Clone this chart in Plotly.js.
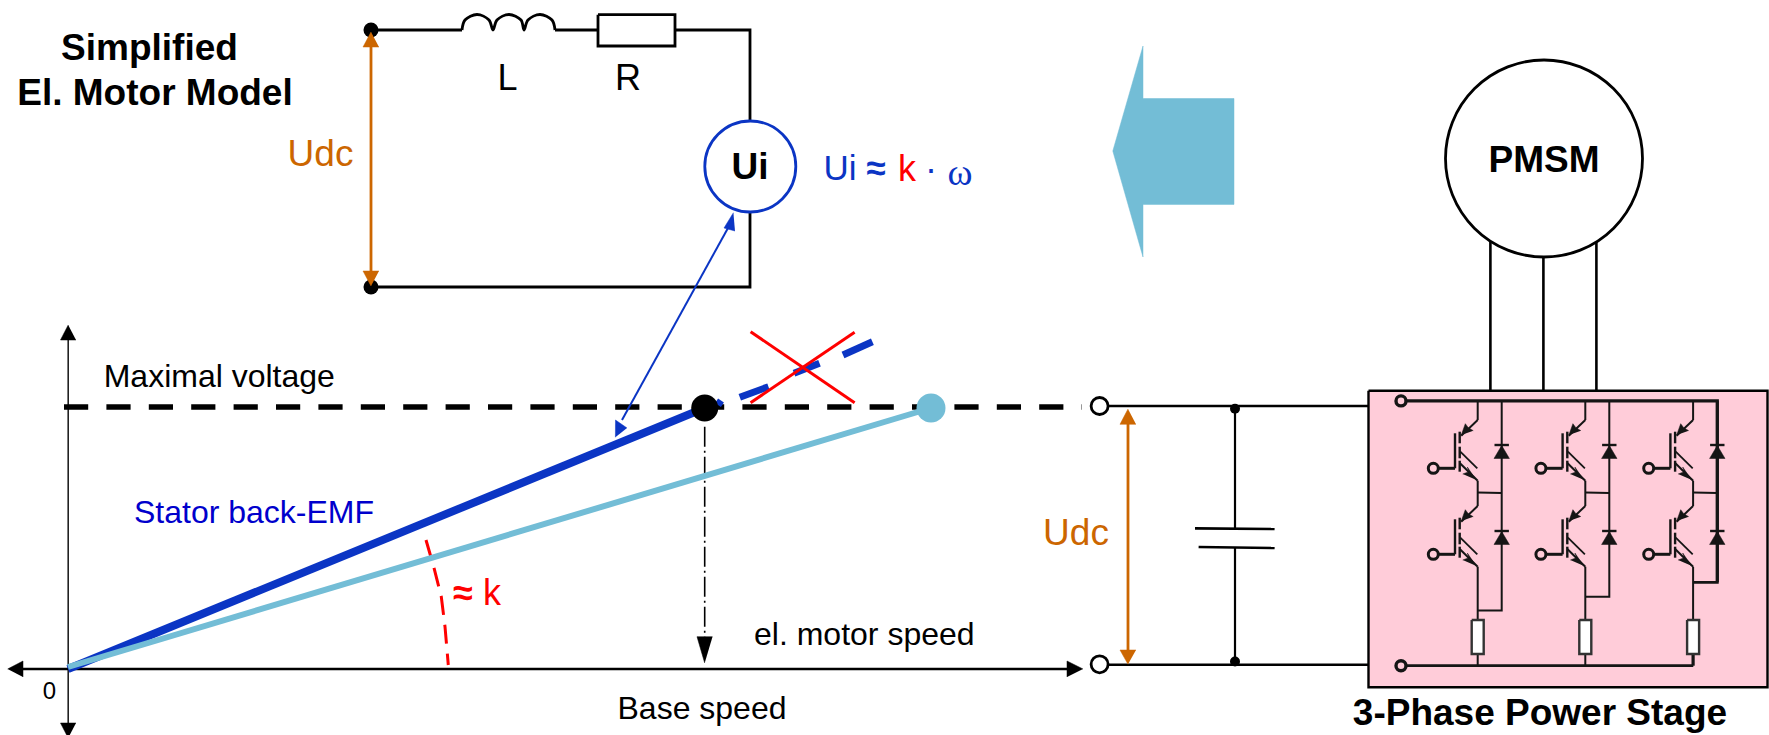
<!DOCTYPE html>
<html><head><meta charset="utf-8">
<script src="https://cdn.plot.ly/plotly-3.0.1.min.js"></script>
<style>html,body{margin:0;padding:0;background:#fff;overflow:hidden}#c{width:1769px;height:735px}</style>
</head><body><div id="c"></div>
<script>
// ---------- colours ----------
const BLACK='#000000', DARK='#151515', BLUE='#0b35c4', SKY='#73bdd6', ORANGE='#cc6600', RED='#ff0000', PINK='#ffccd9', NAVY='#0000cc';

// ---------- labels ----------
const labelTexts = ['Simplified','El. Motor Model','L','R','Udc','Ui','Ui <b>≈</b>','k','·','ω','PMSM','Maximal voltage','Stator back-EMF','<b>≈</b> k','el. motor speed','Base speed','0','Udc','3-Phase Power Stage'];
const labelX     = [149.5,155,507.6,628,320.5,750,854.5,907,931,960,1544,219.3,254,477,864.3,702,49.5,1076,1540];
const labelY     = [51,96,81,81,157,169.5,171.5,171.5,171.5,175,163,379,515,595.5,636.5,711,693,536,716];
const labelSize  = [37,37,36,36,37,37,35,36,36,38,37,32,32,36,32,32,24,37,37];
const labelColor = [BLACK,BLACK,BLACK,BLACK,ORANGE,BLACK,BLUE,RED,BLUE,BLUE,BLACK,BLACK,NAVY,RED,BLACK,BLACK,BLACK,ORANGE,BLACK];
const labelBold  = [1,1,0,0,0,1,0,0,0,0,1,0,0,0,0,0,0,0,1];
const labelFont  = ['s','s','s','s','s','s','s','s','s','t','s','s','s','s','s','s','s','s','s'];

// ---------- motor model circuit ----------
const wireTopX=[371,462], wireTopY=[30,30];
const wireMidX=[555,598], wireMidY=[30,30];
const wireRightX=[675,750,750], wireRightY=[30,30,122];
const wireLowX=[750,750,371], wireLowY=[212,287,287];
const inductorX=[462,465,477,489,493,497,509,521,524,528,540,552,555];
const inductorY=[30,20,14.5,20,30,20,14.5,20,30,20,14.5,20,30];
const seriesResX=[598,675,675,598,598], seriesResY=[14.7,14.7,46,46,14.7];
const modelDotX=[371,371], modelDotY=[30,287];
const modelUdcX=[371,371], modelUdcY=[40,278];
const modelUdcHeadTopX=[371,363,379], modelUdcHeadTopY=[32,47,47];
const modelUdcHeadBotX=[371,363,379], modelUdcHeadBotY=[286,271,271];
const uiCircleX=[750.3], uiCircleY=[166.5], uiCircleD=[91];
const linkX=[728,622], linkY=[228,420];
const linkHeadTopX=[733.4,724,735], linkHeadTopY=[212.7,228,231];
const linkHeadBotX=[615.4,615.5,627], linkHeadBotY=[437.3,420,428];

// ---------- speed / voltage graph ----------
const yAxisX=[68.2,68.2], yAxisY=[335,728];
const yHeadTopX=[68.2,60.5,76], yHeadTopY=[325,340,340];
const yHeadBotX=[68.2,60.5,76], yHeadBotY=[738,723,723];
const xAxisX=[20,1070], xAxisY=[669,669];
const xHeadLeftX=[7.6,23,23], xHeadLeftY=[669,661,677];
const xHeadRightX=[1083,1067,1067], xHeadRightY=[669,661,677];
const maxVoltX=[64,1082], maxVoltY=[407,407];
const backEmfX=[68,704.7], backEmfY=[669,408];
const fieldWeakX=[68,931], fieldWeakY=[667,408];
const slopeDashes=[[718,405,721,400.5],[739.8,397.3,768.5,386.7],[794,373.3,819.5,363.3],[843,355,872.4,341.7]];
const crossA=[750.6,854.6], crossAY=[331.7,402.7];
const crossB=[854.6,750.6], crossBY=[332.3,402.7];
const baseDropX=[704.7,704.7], baseDropY=[426.7,640];
const baseHeadX=[704.7,697,712.5], baseHeadY=[663,636.7,636.7];
const angleX=[426,433.7,441.3,445,448.3], angleY=[540,566.7,596.7,626.7,665];
const endDotX=[704.7,931], endDotY=[408,408], endDotD=[27,29];

// ---------- big arrow ----------
const bigArrowX=[1112.8,1143,1143,1234,1234,1143,1143,1112.8];
const bigArrowY=[151,46,98.5,98.5,204.4,204.4,257,151];

// ---------- DC link ----------
const dcTopX=[1109,1368.5], dcTopY=[406,406];
const dcBotX=[1109,1368.5], dcBotY=[664.8,664.8];
const termX=[1099.6,1099.6], termY=[406,664.3];
const capWireUpX=[1235,1235], capWireUpY=[408.8,528.5];
const capWireDnX=[1235,1235], capWireDnY=[548,661.5];
const capPlateAX=[1195,1274.6], capPlateAY=[528.4,529];
const capPlateBX=[1198.6,1274.6], capPlateBY=[547,548];
const nodeX=[1235,1235], nodeY=[408.8,661.5];
const dcUdcX=[1128,1128], dcUdcY=[420,655];
const dcHeadTopX=[1128,1120,1136], dcHeadTopY=[409,424.3,424.3];
const dcHeadBotX=[1128,1120,1136], dcHeadBotY=[664.3,650,650];

// ---------- motor ----------
const motorX=[1544], motorY=[158.5], motorD=[197];
const phaseWireX=[1490.4,1543.4,1596.4], phaseWireTop=[241.5,257,241.5], phaseWireBot=[390.5,390.5,390.5];

// ---------- power stage ----------
const boxX=[1368.5,1767.5,1767.5,1368.5,1368.5], boxY=[390.7,390.7,687.3,687.3,390.7];
const busTopX=[1401,1717.3,1717.3], busTopY=[400.9,400.9,582.3];
const busBotX=[1401,1693.3], busBotY=[665.7,665.7];
const busTermX=[1401,1401], busTermY=[400.9,665.7];
const legCollector=[1477.7,1585.3,1693.1];
const legDiode=[1501.7,1609.3,1717.3];
const legLowCross=[610.5,596.7,582.3];
// one IGBT, relative to its collector wire x, at the upper position
const igbtOffsets=[0,86];
const igbtGateDX=[-44.4,-22.7], igbtGateY=[468.3,468.3];
const igbtBarDX=[-22.7,-22.7], igbtBarY=[433.3,468.3];
const igbtChannelDX=[-18,-18], igbtChannelY=[[431.7,443.3],[446.7,458.3],[460.7,471.7]];
const igbtDiagDX=[-17.4,-0.4], igbtDiagY=[451.7,468.3];
const igbtColDX=[0,-16.5], igbtColY=[420,435.7];
const igbtEmDX=[-17.7,0], igbtEmY=[463.3,480.7];
const igbtColHeadDX=[-16.4,-12.4,-9.4,-4.4], igbtColHeadY=[435,423.7,427.7,430.7];
const igbtEmHeadDX=[-1.7,-10.4,-8.7,-15], igbtEmHeadY=[479.7,467,471.7,474];
const diodeDX=[-7.7,7.7,0,-7.7], diodeY=[458.5,458.5,445.5,458.5];
const diodeBarDX=[-7.2,7.2], diodeBarY=[445,445];
const legResX=[-6,6,6,-6,-6], legResY=[620,620,654,654,620];

// ---------- builders ----------
const traces=[];
const base={type:'scatter',hoverinfo:'skip',showlegend:false,cliponaxis:true};
function line(x,y,color,width,dash,shape){traces.push({...base,mode:'lines',x,y,line:{color,width,dash:dash||'solid',shape:shape||'linear'}});}
function poly(x,y,color){traces.push({...base,mode:'lines',x,y,fill:'toself',fillcolor:color,line:{color,width:0.5}});}
function rect(x,y,fill,color,width){traces.push({...base,mode:'lines',x,y,fill:'toself',fillcolor:fill,line:{color,width}});}
function dots(x,y,size,fill,color,width){traces.push({...base,mode:'markers',x,y,marker:{symbol:'circle',opacity:1,size,color:fill,line:{color,width:width||0}}});}

// big arrow
poly(bigArrowX,bigArrowY,SKY);

// motor
phaseWireX.forEach((v,i)=>line([v,v],[phaseWireTop[i],phaseWireBot[i]],BLACK,2.6));
dots(motorX,motorY,motorD,'#ffffff',BLACK,2.8);

// power stage box
rect(boxX,boxY,PINK,BLACK,2.4);
legCollector.forEach((c,p)=>{
  const d=legDiode[p];
  igbtOffsets.forEach(o=>{
    const sh=a=>a.map(v=>v+o), at=a=>a.map(v=>v+c);
    line(at(igbtGateDX),igbtGateY.map(v=>v+o),DARK,3);
    line(at(igbtBarDX),sh(igbtBarY),DARK,2.4);
    igbtChannelY.forEach(s=>line(at(igbtChannelDX),sh(s),DARK,2.4));
    line(at(igbtDiagDX),sh(igbtDiagY),DARK,1.8);
    line(at(igbtColDX),sh(igbtColY),DARK,2);
    line(at(igbtEmDX),sh(igbtEmY),DARK,2);
    poly(at(igbtColHeadDX),sh(igbtColHeadY),DARK);
    poly(at(igbtEmHeadDX),sh(igbtEmHeadY),DARK);
    poly(diodeDX.map(v=>v+d),sh(diodeY),DARK);
    line(diodeBarDX.map(v=>v+d),sh(diodeBarY),DARK,2.4);
    dots([c-44.4],[468.3+o],10,PINK,DARK,3);
  });
  line([c,c],[400.9,420],DARK,2);
  line([c,c],[480.7,506],DARK,2);
  line([c,d],[492.5,493],DARK,1.8);
  line([c,c],[566.7,620],DARK,2);
  line([c,d,d],[legLowCross[p],legLowCross[p],400.9],DARK,p===2?2.8:2);
  line([c,c],[654,665.7],DARK,p===2?3.2:2);
  rect(legResX.map(v=>v+c),legResY,'#ffffff','#333333',2.4);
});
line(busTopX,busTopY,DARK,3.2);
line(busBotX,busBotY,DARK,2.8);
dots(busTermX,busTermY,10,PINK,DARK,3.4);

// DC link
line(dcTopX,dcTopY,BLACK,2.6); line(dcBotX,dcBotY,BLACK,2.6);
line(capWireUpX,capWireUpY,BLACK,2.2); line(capWireDnX,capWireDnY,BLACK,2.2);
line(capPlateAX,capPlateAY,BLACK,2.6); line(capPlateBX,capPlateBY,BLACK,2.6);
dots(nodeX,nodeY,10,BLACK,BLACK,0);
line(dcUdcX,dcUdcY,ORANGE,2.8);
poly(dcHeadTopX,dcHeadTopY,ORANGE); poly(dcHeadBotX,dcHeadBotY,ORANGE);

// graph
line(yAxisX,yAxisY,'#222222',1.6);
poly(yHeadTopX,yHeadTopY,BLACK); poly(yHeadBotX,yHeadBotY,BLACK);
line(xAxisX,xAxisY,BLACK,2.6);
poly(xHeadLeftX,xHeadLeftY,BLACK); poly(xHeadRightX,xHeadRightY,BLACK);
line(maxVoltX,maxVoltY,BLACK,5.6,'24.2px,18.2px');
dots(termX,termY,17,'#ffffff',BLACK,2.8);
line(baseDropX,baseDropY,BLACK,1.6,'20px,4px,2px,4px');
poly(baseHeadX,baseHeadY,BLACK);
line(angleX,angleY,RED,3,'19px,10px');
line(backEmfX,backEmfY,BLUE,8);
line(fieldWeakX,fieldWeakY,SKY,6);
slopeDashes.forEach(s=>line([s[0],s[2]],[s[1],s[3]],BLUE,7));
line(crossA,crossAY,RED,3); line(crossB,crossBY,RED,3);
dots(endDotX,endDotY,endDotD,[BLACK,SKY],BLACK,0);

// motor model
line(wireTopX,wireTopY,BLACK,2.8); line(wireMidX,wireMidY,BLACK,2.8);
line(wireRightX,wireRightY,BLACK,2.8); line(wireLowX,wireLowY,BLACK,2.8);
line(inductorX,inductorY,BLACK,2.8,'solid','spline');
rect(seriesResX,seriesResY,'#ffffff',BLACK,2.8);
dots(modelDotX,modelDotY,15,BLACK,BLACK,0);
line(modelUdcX,modelUdcY,ORANGE,2.8);
poly(modelUdcHeadTopX,modelUdcHeadTopY,ORANGE); poly(modelUdcHeadBotX,modelUdcHeadBotY,ORANGE);
dots(uiCircleX,uiCircleY,uiCircleD,'#ffffff',BLUE,2.8);
line(linkX,linkY,BLUE,2);
poly(linkHeadTopX,linkHeadTopY,BLUE); poly(linkHeadBotX,linkHeadBotY,BLUE);

// labels
labelTexts.forEach((t,i)=>traces.push({...base,mode:'text',x:[labelX[i]],y:[labelY[i]],text:[t],textposition:'middle center',
  textfont:{family:labelFont[i]==='t'?'Liberation Serif':'Liberation Sans',size:labelSize[i],color:labelColor[i],weight:labelBold[i]?700:400}}));

const axis={visible:false,fixedrange:true,showgrid:false,zeroline:false};
Plotly.newPlot('c',traces,{
  width:1769,height:735,margin:{l:0,r:0,t:0,b:0},paper_bgcolor:'#ffffff',plot_bgcolor:'#ffffff',
  xaxis:{...axis,range:[0,1769]},yaxis:{...axis,range:[735,0]},showlegend:false
},{displayModeBar:false,staticPlot:true});
</script></body></html>
